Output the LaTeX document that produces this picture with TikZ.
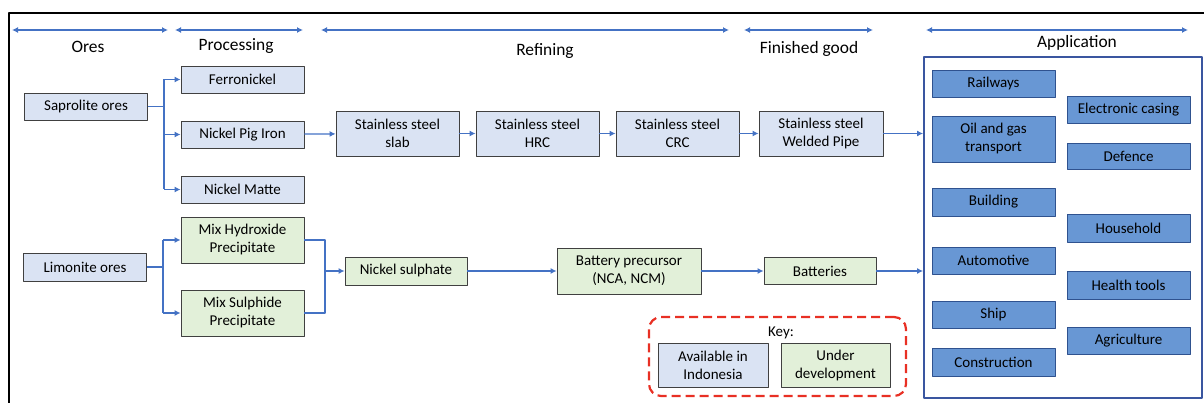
\documentclass[tikz,border=0pt]{standalone}
\usepackage{fontspec}
\setmainfont{Carlito}
\usetikzlibrary{arrows.meta,positioning}
\definecolor{availfill}{RGB}{218,227,243}
\definecolor{devfill}{RGB}{226,240,217}
\definecolor{appfill}{RGB}{104,151,212}
\definecolor{appline}{RGB}{47,82,143}
\definecolor{frameblue}{RGB}{58,86,160}
\definecolor{flowblue}{RGB}{68,114,196}
\definecolor{keyred}{RGB}{232,48,36}
\begin{document}
\begin{tikzpicture}[x=1pt,y=-1pt,>={Latex[length=6pt,width=6pt]},line join=round,
	every node/.style={font=\fontsize{15}{18}\selectfont,align=center,inner sep=0pt},
	box/.style={draw=black!75,line width=0.8pt,minimum width=123pt,minimum height=27pt},
	avail/.style={box,fill=availfill},
	underdev/.style={box,fill=devfill},
	appitem/.style={box,draw=appline,fill=appfill},
	flow/.style={draw=flowblue,line width=1.2pt},
	stage/.style={flow,<->},
	stagelabel/.style={font=\fontsize{17.4}{20}\selectfont}]
	\useasboundingbox (0,0) rectangle (1204,403);
	\draw[line width=1.5pt] (9,403) -- (9,13) -- (1204,13);
	% stages along the top
	\foreach \a/\b/\lx/\ly/\t [count=\i] in {12/168/88/47/Ores,175/303/236/46/Processing,321/729/545/51/Refining,744/873/809/49/Finished good,926/1188/1077/43/Application}{
		\draw[stage] (\a,30) -- (\b,30);
		\node[stagelabel] (stage\i) at (\lx,\ly) {\t};
	}
	% ores and processing
	\node[avail] (saprolite) at (86,106.5) {Saprolite ores};
	\node[avail] (ferro) at (242.5,79.5) {Ferronickel};
	\node[avail] (npi) at (242.5,134.5) {Nickel Pig Iron};
	\node[avail] (matte) at (242.5,189.5) {Nickel Matte};
	\node[avail,minimum height=28pt] (limonite) at (85,267) {Limonite ores};
	\node[underdev,minimum height=46pt] (mhp) at (242.5,240) {Mix Hydroxide\\Precipitate};
	\node[underdev,minimum height=46pt] (msp) at (242.5,313) {Mix Sulphide\\Precipitate};
	% refining and finished good
	\node[avail,minimum height=45pt] (slab) at (397.5,133.5) {Stainless steel\\slab};
	\node[avail,minimum height=45pt] (hrc) at (537.5,133.5) {Stainless steel\\HRC};
	\node[avail,minimum height=45pt] (crc) at (677.5,133.5) {Stainless steel\\CRC};
	\node[avail,minimum height=45pt,minimum width=124pt] (pipe) at (821,133.5) {Stainless steel\\Welded Pipe};
	\node[underdev,minimum width=122pt,minimum height=28pt] (niso) at (406,271) {Nickel sulphate};
	\node[underdev,minimum width=144pt,minimum height=46pt] (precursor) at (629,271) {Battery precursor\\(NCA, NCM)};
	\node[underdev,minimum width=112pt] (batteries) at (820,271) {Batteries};
	% key
	\node[draw=keyred,line width=2.2pt,dash pattern=on 9pt off 5pt,rounded corners=12pt,minimum width=257pt,minimum height=79pt] (keybox) at (777.5,356.5) {};
	\node (keylabel) at (781,333) {Key:};
	\node[avail,minimum width=110pt,minimum height=44pt] (keyavail) at (713,365) {Available in\\Indonesia};
	\node[underdev,minimum width=109pt,minimum height=44pt] (keydev) at (835.5,365) {Under\\development};
	% application
	\node[draw=frameblue,line width=1.8pt,minimum width=278pt,minimum height=341pt] (appframe) at (1063,227.5) {};
	\node[appitem] (railways) at (993.5,83.5) {Railways};
	\node[appitem,minimum height=46pt] (oilgas) at (993.5,139) {Oil and gas\\transport};
	\node[appitem,minimum height=28pt] (building) at (993.5,202) {Building};
	\node[appitem] (automotive) at (993.5,260.5) {Automotive};
	\node[appitem] (ship) at (993.5,314.5) {Ship};
	\node[appitem,minimum height=28pt] (construction) at (993.5,362) {Construction};
	\node[appitem] (casing) at (1128.5,109.5) {Electronic casing};
	\node[appitem,minimum height=26pt] (defence) at (1128.5,156) {Defence};
	\node[appitem,minimum height=28pt] (household) at (1128.5,228) {Household};
	\node[appitem,minimum height=28pt] (health) at (1128.5,285) {Health tools};
	\node[appitem] (agriculture) at (1128.5,340.5) {Agriculture};
	% connectors
	\coordinate (sapfork) at (164,106.5);
	\draw[flow] (saprolite) -- (sapfork);
	\draw[flow] (sapfork |- ferro) -- (sapfork |- matte);
	\foreach \n in {ferro,npi,matte}
		\draw[flow,->] (sapfork |- \n) -- (\n);
	\coordinate (limfork) at (163,267);
	\draw[flow] (limonite) -- (limfork);
	\draw[flow] (limfork |- mhp) -- (limfork |- msp);
	\foreach \n in {mhp,msp}
		\draw[flow,->] (limfork |- \n) -- (\n);
	\coordinate (mergex) at (325,271);
	\draw[flow] (mhp.east) -| (mergex |- msp.east) -- (msp.east);
	\draw[flow,->] (mergex) -- (niso);
	\draw[flow,->] (npi) -- (slab);
	\draw[flow,->] (slab) -- (hrc);
	\draw[flow,->] (hrc) -- (crc);
	\draw[flow,->] (crc) -- (pipe);
	\draw[flow,->] (pipe) -- (pipe -| appframe.west);
	\draw[flow,->] (niso) -- (precursor);
	\draw[flow,->] (precursor) -- (batteries);
	\draw[flow,->] (batteries) -- (batteries -| appframe.west);
\end{tikzpicture}
\end{document}
